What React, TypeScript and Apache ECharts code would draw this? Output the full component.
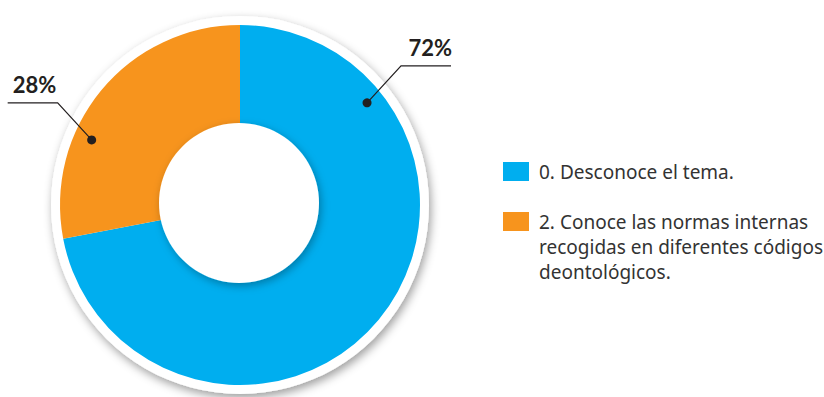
import React, { useEffect, useRef } from "react";
import * as echarts from "echarts";

const CATEGORIES = [
  "0. Desconoce el tema.",
  "2. Conoce las normas internas\nrecogidas en diferentes códigos\ndeontológicos.",
];
const VALUES = [72, 28];
const COLORS = ["#00AEEF", "#F7941D"];

// layout (not data)
const CX = 240;
const CY = 205;
const R_IN = 80;
const R_OUT = 180;
// label anchor: polar angle (deg, math convention) and radius, elbow offset, horizontal run
const LABEL_ANCHORS = [
  { angle: 38.8, r: 163, dir: 1 },
  { angle: 156.3, r: 162, dir: -1 },
];
const ELBOW_DX = 34;
const ELBOW_DY = -37;
const RUN = 50;

function anchorPoints(i: number) {
  const a = LABEL_ANCHORS[i];
  const rad = (a.angle * Math.PI) / 180;
  const p0 = [CX + a.r * Math.cos(rad), CY - a.r * Math.sin(rad)];
  const p1 = [p0[0] + a.dir * ELBOW_DX, p0[1] + ELBOW_DY];
  const p2 = [p1[0] + a.dir * RUN, p1[1]];
  return [p0, p1, p2];
}

export default function App() {
  const ref = useRef<HTMLDivElement>(null);
  useEffect(() => {
    if (!ref.current) return;
    const chart = echarts.init(ref.current, undefined, { renderer: "svg" });
    const leaders: any[] = [];
    VALUES.forEach((_, i) => {
      const pts = anchorPoints(i);
      leaders.push({
        type: "polyline",
        z: 100,
        silent: true,
        shape: { points: pts },
        style: { stroke: "#231F20", lineWidth: 1.2, fill: null },
      });
      leaders.push({
        type: "circle",
        z: 101,
        silent: true,
        shape: { cx: pts[0][0], cy: pts[0][1], r: 4.5 },
        style: { fill: "#231F20" },
      });
    });
    const legendItems: any[] = [];
    CATEGORIES.forEach((name, i) => {
      const top = 162 + i * 50;
      legendItems.push({
        type: "rect",
        shape: { x: 503, y: top, width: 26, height: 19 },
        style: { fill: COLORS[i] },
      });
      legendItems.push({
        type: "text",
        x: 539,
        y: top - 3,
        style: {
          text: name,
          fill: "#333333",
          font: "19px 'Noto Sans'",
          lineHeight: 25,
          verticalAlign: "top",
        },
      });
    });
    chart.setOption({
      animation: false,
      graphic: [
        {
          type: "circle",
          z: 0,
          shape: { cx: CX, cy: CY, r: 189 },
          style: {
            fill: "#ffffff",
            shadowBlur: 10,
            shadowOffsetX: 2,
            shadowOffsetY: 4,
            shadowColor: "rgba(0,0,0,0.38)",
          },
        },
        {
          type: "circle",
          z: 50,
          shape: { cx: CX - 1, cy: CY - 2, r: R_IN },
          style: {
            fill: "#ffffff",
            shadowBlur: 8,
            shadowOffsetX: 2,
            shadowOffsetY: 3,
            shadowColor: "rgba(0,0,0,0.3)",
          },
        },
        ...leaders,
        ...legendItems,
      ],
      series: [
        {
          type: "pie",
          silent: true,
          z: 2,
          center: [CX, CY],
          radius: [R_IN - 5, R_OUT],
          startAngle: 90,
          clockwise: true,
          emphasis: { disabled: true },
          itemStyle: { borderWidth: 0 },
          data: CATEGORIES.map((name, i) => ({
            name,
            value: VALUES[i],
            itemStyle: { color: COLORS[i] },
          })),
          label: {
            show: true,
            position: "outside",
            formatter: "{d}%",
            fontFamily: "Lato",
            fontWeight: "bold",
            fontSize: 22,
            color: "#231F20",
            overflow: "none",
          },
          labelLine: { show: false },
          labelLayout: (params: any) => {
            const i = params.dataIndex;
            const pts = anchorPoints(i);
            const dir = LABEL_ANCHORS[i].dir;
            return {
              x: dir > 0 ? pts[2][0] + 1 : pts[2][0] + 5,
              y: pts[2][1] - 7,
              align: dir > 0 ? "right" : "left",
              verticalAlign: "bottom",
            };
          },
        },
      ],
    });
    return () => chart.dispose();
  }, []);
  return (
    <div
      ref={ref}
      style={{ position: "absolute", left: 0, top: 0, width: 824, height: 397 }}
    />
  );
}
